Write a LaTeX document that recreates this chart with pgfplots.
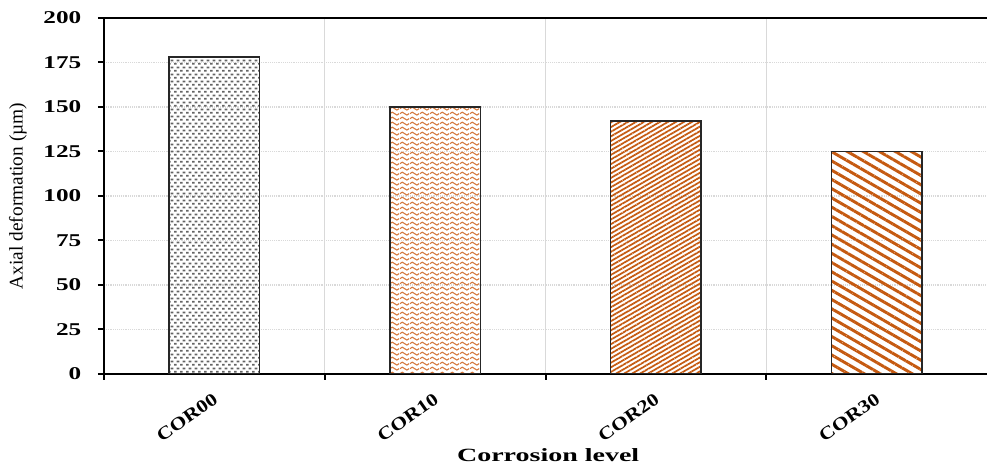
\documentclass[border=0pt]{standalone}
\usepackage{fontspec}
\setmainfont{Liberation Serif}
\newfontfamily\tickfont{Liberation Serif}[FakeStretch=1.4]
\newfontfamily\xlabfont{Liberation Serif}[FakeStretch=1.5]
\newfontfamily\xtickfont{Liberation Serif}[FakeStretch=1.2]
\usepackage{pgfplots}
\pgfplotsset{compat=1.18}
\usetikzlibrary{patterns.meta}

\definecolor{barorange}{RGB}{197,90,17}
\definecolor{lightorange}{RGB}{214,120,60}
\definecolor{dotgray}{RGB}{100,100,100}
\definecolor{gridgray}{RGB}{217,217,217}

% small staggered dashes (COR00)
\tikzdeclarepattern{
  name=confetti,
  type=uncolored,
  bounding box={(0,0) and (4.5pt,5pt)},
  tile size={(4.5pt,5pt)},
  code={
    \fill (0.1pt,0.3pt) rectangle (2.3pt,1.7pt);
    \fill (2.35pt,2.8pt) rectangle (4.55pt,4.2pt);
  }
}
% waves (COR10)
\tikzdeclarepattern{
  name=waves,
  type=uncolored,
  bounding box={(0,0) and (7.5pt,4pt)},
  tile size={(7.5pt,4pt)},
  code={
    \draw[line width=0.9pt] (0,2pt) sin (1.875pt,3.2pt) cos (3.75pt,2pt)
      sin (5.625pt,0.8pt) cos (7.5pt,2pt);
  }
}

\begin{document}
\begin{tikzpicture}
  \begin{axis}[
    scale only axis,
    width=662.25pt, height=267pt,
    axis lines=left,
    axis line style={-, line width=1.8pt},
    tick align=outside,
    major tick length=4.5pt,
    tick style={black, line width=1.5pt},
    xmin=-0.5, xmax=3.5,
    ymin=0, ymax=200,
    ytick={0,25,...,200},
    xtick={-0.5,0.5,1.5,2.5},
    xticklabels={},
    extra x ticks={0,1,2,3},
    extra x tick labels={COR00,COR10,COR20,COR30},
    extra x tick style={major tick length=0pt, grid=none},
    xmajorgrids, ymajorgrids,
    x grid style={gridgray, line width=0.8pt},
    y grid style={gridgray, densely dotted, line width=0.9pt},
    /pgf/number format/assume math mode=true,
    yticklabel style={font=\tickfont\bfseries\fontsize{13.5}{13.5}\selectfont, anchor=east, xshift=-9pt},
    xticklabel style={font=\xtickfont\bfseries\fontsize{13.5}{13.5}\selectfont, rotate=35, anchor=north east, yshift=-7pt, xshift=-6pt},
    ylabel={Axial deformation (µm)},
    every axis y label/.style={at={(axis description cs:-0.0974,0.5)}, rotate=90, anchor=center,
      font=\fontsize{14.5}{14.5}\selectfont},
    xlabel={Corrosion level},
    every axis x label/.style={at={(axis description cs:0.503,0)}, yshift=-61pt, anchor=center,
      font=\xlabfont\bfseries\fontsize{14}{14}\selectfont},
    ybar,
    bar width=0.41,
  ]
    \addplot[bar shift=0pt, draw=black!85, line width=1.3pt, pattern={confetti}, pattern color=dotgray]
      coordinates {(0,178)};
    \addplot[bar shift=0pt, draw=black!85, line width=1.3pt, pattern={waves}, pattern color=lightorange]
      coordinates {(1,150)};
    \addplot[bar shift=0pt, draw=black!85, line width=1.3pt,
      pattern={Lines[angle=30, distance=3pt, line width=1.3pt]}, pattern color=barorange]
      coordinates {(2,142)};
    \addplot[bar shift=0pt, draw=black!85, line width=1.3pt,
      pattern={Lines[angle=-30, distance=6pt, line width=2.2pt]}, pattern color=barorange]
      coordinates {(3,125)};
    \draw[line width=1.5pt] (rel axis cs:0,1) -- (rel axis cs:1,1);
  \end{axis}
  \pgfresetboundingbox
  \path (-78pt,-69pt) rectangle (662.25pt,280.5pt);
\end{tikzpicture}
\end{document}
